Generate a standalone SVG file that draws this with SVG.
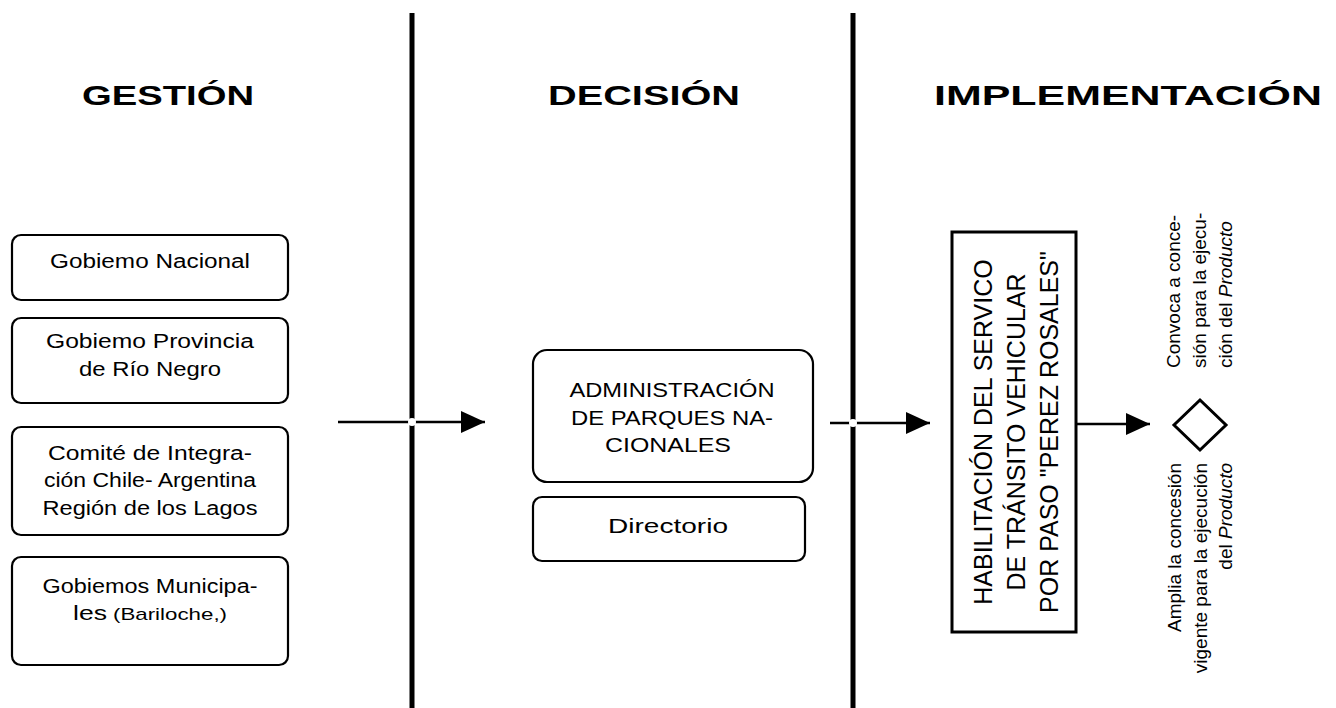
<svg xmlns="http://www.w3.org/2000/svg" width="1336" height="708" viewBox="0 0 1336 708">
<defs>
<style>
.box{fill:#fff;stroke:#000;stroke-width:2.2}
.t{font-family:"Liberation Sans",Arial,sans-serif;font-size:20px;fill:#000;text-anchor:middle}
.title{font-family:"Liberation Sans",Arial,sans-serif;font-size:28px;font-weight:bold;fill:#000}
.rt{font-family:"Liberation Sans",Arial,sans-serif;font-size:19px;fill:#000}
.lane{stroke:#000;stroke-width:5;fill:none}
.conn{stroke:#000;stroke-width:2.5;fill:none}
</style>
<marker id="ah" viewBox="0 0 24 22" markerWidth="24" markerHeight="22" refX="24" refY="11" orient="auto" markerUnits="userSpaceOnUse">
<path d="M0,0 L24,11 L0,22 z" fill="#000"/>
</marker>
</defs>
<rect width="1336" height="708" fill="#fff"/>

<g id="lanes">
<line class="lane" x1="412" y1="13" x2="412" y2="708"/>
<line class="lane" x1="853" y1="13" x2="853" y2="708"/>
</g>

<g id="titles">
<text class="title" x="82" y="105" textLength="172" lengthAdjust="spacingAndGlyphs">GESTIÓN</text>
<text class="title" x="548" y="105" textLength="192" lengthAdjust="spacingAndGlyphs">DECISIÓN</text>
<text class="title" x="934" y="105" textLength="388" lengthAdjust="spacingAndGlyphs">IMPLEMENTACIÓN</text>
</g>

<g id="n-gobierno-nacional">
<rect class="box" x="12" y="235" width="276" height="65" rx="9"/>
<text class="t" x="150" y="268" textLength="200" lengthAdjust="spacingAndGlyphs">Gobiemo Nacional</text>
</g>
<g id="n-gobierno-provincia">
<rect class="box" x="12" y="318" width="276" height="85" rx="9"/>
<text class="t" x="150" y="348" textLength="208" lengthAdjust="spacingAndGlyphs">Gobiemo Provincia</text>
<text class="t" x="150" y="376" textLength="142" lengthAdjust="spacingAndGlyphs">de Río Negro</text>
</g>
<g id="n-comite">
<rect class="box" x="12" y="427" width="276" height="108" rx="9"/>
<text class="t" x="150" y="460" textLength="204" lengthAdjust="spacingAndGlyphs">Comité de Integra-</text>
<text class="t" x="150" y="487" textLength="212" lengthAdjust="spacingAndGlyphs">ción Chile- Argentina</text>
<text class="t" x="150" y="515" textLength="215" lengthAdjust="spacingAndGlyphs">Región de los Lagos</text>
</g>
<g id="n-municipales">
<rect class="box" x="12" y="557" width="276" height="108" rx="9"/>
<text class="t" x="150" y="593" textLength="215" lengthAdjust="spacingAndGlyphs">Gobiemos Municipa-</text>
<text class="t" x="90" y="620" textLength="34" lengthAdjust="spacingAndGlyphs">les</text>
<text class="t" x="170" y="620" style="font-size:17px" textLength="114" lengthAdjust="spacingAndGlyphs">(Bariloche,)</text>
</g>

<g id="n-apn">
<rect class="box" x="533" y="350" width="280" height="132" rx="14"/>
<text class="t" x="672" y="397" textLength="205" lengthAdjust="spacingAndGlyphs">ADMINISTRACIÓN</text>
<text class="t" x="672" y="425" textLength="202" lengthAdjust="spacingAndGlyphs">DE PARQUES NA-</text>
<text class="t" x="668" y="452" textLength="126" lengthAdjust="spacingAndGlyphs">CIONALES</text>
</g>
<g id="n-directorio">
<rect class="box" x="533" y="497" width="272" height="64" rx="9"/>
<text class="t" x="668" y="533" style="font-size:21px" textLength="120" lengthAdjust="spacingAndGlyphs">Directorio</text>
</g>

<g id="n-habilitacion">
<rect x="952" y="232" width="124" height="400" fill="#fff" stroke="#000" stroke-width="3"/>
<text class="t" style="font-size:25px" transform="translate(992,432) rotate(-90)">HABILITACIÓN DEL SERVICO</text>
<text class="t" style="font-size:25px" transform="translate(1025,432) rotate(-90)">DE TRÁNSITO VEHICULAR</text>
<text class="t" style="font-size:25px" transform="translate(1058,432) rotate(-90)">POR PASO "PEREZ ROSALES"</text>
</g>

<g id="n-decision">
<path d="M1200,400 L1226,425 L1200,450 L1174,425 Z" fill="#fff" stroke="#000" stroke-width="3"/>
</g>

<g id="n-convoca">
<text class="rt" transform="translate(1180,368) rotate(-90)">Convoca a conce-</text>
<text class="rt" transform="translate(1206,368) rotate(-90)">sión para la ejecu-</text>
<text class="rt" transform="translate(1232,368) rotate(-90)">ción del <tspan font-style="italic">Producto</tspan></text>
</g>
<g id="n-amplia">
<text class="rt" text-anchor="end" transform="translate(1181,463) rotate(-90)">Amplia la concesión</text>
<text class="rt" text-anchor="end" transform="translate(1207,463) rotate(-90)">vigente para la ejecución</text>
<text class="rt" text-anchor="end" transform="translate(1232,463) rotate(-90)">del <tspan font-style="italic">Producto</tspan></text>
</g>

<g id="connectors">
<line class="conn" x1="338" y1="422" x2="485" y2="422" marker-end="url(#ah)"/>
<line class="conn" x1="830" y1="423" x2="930" y2="423" marker-end="url(#ah)"/>
<line class="conn" x1="1076" y1="424" x2="1150" y2="424" marker-end="url(#ah)"/>
<circle cx="412" cy="422" r="4" fill="#fff"/>
<circle cx="853" cy="423" r="4" fill="#fff"/>
</g>
</svg>
